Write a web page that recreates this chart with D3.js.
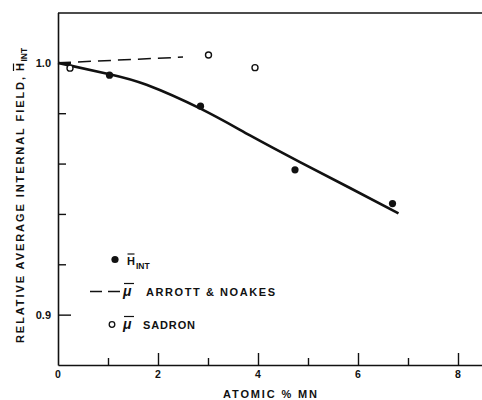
<!DOCTYPE html>
<html>
<head>
<meta charset="utf-8">
<script src="https://cdn.jsdelivr.net/npm/d3@7"></script>
<style>
  html, body { margin: 0; padding: 0; background: #fff; }
  svg { display: block; }
  text { font-family: "Liberation Sans", Arial, sans-serif; font-weight: bold; fill: #111; }
</style>
</head>
<body>
<script>
// Relative average internal field vs. Mn content
const hIntX = [1.03, 2.85, 4.74, 6.69];
const hIntY = [0.9951, 0.9828, 0.9575, 0.9441];

const sadronX = [0.24, 3.01, 3.94];
const sadronY = [0.9979, 1.0031, 0.9981];

const arrottX = [0, 2.5];
const arrottY = [1.0, 1.0023];

const fitX = [0, 1.03, 1.77, 2.85, 3.84, 4.84, 5.84, 6.81];
const fitY = [1.0, 0.9955, 0.9913, 0.9818, 0.9712, 0.9606, 0.9503, 0.9402];

const xMajor = [2, 4, 6, 8];
const xMinor = [1, 3, 5, 7];
const xLabels = [0, 2, 4, 6, 8];
const yMajor = [0.9, 1.0];
const yMinor = [0.92, 0.94, 0.96, 0.98];

const W = 482, H = 400;
const plotL = 58, plotT = 13, plotB = 365, plotR = 482;

const svg = d3.select("body").append("svg")
  .attr("width", W).attr("height", H);
svg.append("rect").attr("width", W).attr("height", H).attr("fill", "#fff");

const x = d3.scaleLinear().domain([0, (plotR - plotL) / 50]).range([plotL, plotR]);
const y = d3.scaleLinear().domain([0.88, 1.02]).range([plotB, plotT - 0.5]);

const ink = "#111";

// overbar helper for symbols such as H-bar and mu-bar
function bar(g, x1, x2, yy, w) {
  g.append("line").attr("x1", x1).attr("x2", x2).attr("y1", yy).attr("y2", yy)
    .attr("stroke", ink).attr("stroke-width", w || 1.2);
}

// frame: top rule
svg.append("line").attr("x1", plotL).attr("x2", plotR).attr("y1", plotT).attr("y2", plotT)
  .attr("stroke", ink).attr("stroke-width", 1.5);

// x axis (ticks point inward)
const gx = svg.append("g").attr("transform", `translate(0,${plotB})`);
gx.call(d3.axisBottom(x).tickValues(xMajor).tickSize(-12).tickSizeOuter(0).tickFormat(""));
gx.append("g").call(d3.axisBottom(x).tickValues(xMinor).tickSize(-7).tickSizeOuter(0).tickFormat(""))
  .select(".domain").remove();
gx.selectAll(".domain").attr("stroke", ink).attr("stroke-width", 1.6);
gx.selectAll(".tick line").attr("stroke", ink).attr("stroke-width", 1.4);
gx.selectAll(".tick text").remove();
gx.selectAll(".xl").data(xLabels).enter().append("text")
  .attr("x", d => x(d)).attr("y", 12.5)
  .attr("text-anchor", "middle").attr("font-size", 10.5)
  .text(d => d);

// y axis (ticks point inward)
const gy = svg.append("g").attr("transform", `translate(${plotL},0)`);
gy.call(d3.axisLeft(y).tickValues(yMajor).tickSize(-13).tickSizeOuter(0).tickFormat(""));
gy.append("g").call(d3.axisLeft(y).tickValues(yMinor).tickSize(-8).tickSizeOuter(0).tickFormat(""))
  .select(".domain").remove();
gy.selectAll(".domain").attr("stroke", ink).attr("stroke-width", 1.6);
gy.selectAll(".tick line").attr("stroke", ink).attr("stroke-width", 1.4);
gy.selectAll(".tick text").remove();
gy.selectAll(".yl").data(yMajor).enter().append("text")
  .attr("x", -7).attr("y", d => y(d) + 4)
  .attr("text-anchor", "end").attr("font-size", 11)
  .text(d => d3.format(".1f")(d));

// axis titles
svg.append("text")
  .attr("x", 223).attr("y", 398)
  .attr("font-size", 11).attr("textLength", 94).attr("lengthAdjust", "spacing")
  .text("ATOMIC % MN");

const gt = svg.append("g").attr("transform", "translate(24,0) rotate(-90)");
gt.append("text").attr("x", -343).attr("y", 0)
  .attr("font-size", 11).attr("textLength", 266).attr("lengthAdjust", "spacing")
  .text("RELATIVE AVERAGE INTERNAL FIELD,");
gt.append("text").attr("x", -71).attr("y", 0).attr("font-size", 11).text("H");
bar(gt, -71, -63.5, -10.5);
gt.append("text").attr("x", -61.5).attr("y", 2.5).attr("font-size", 8.5).text("INT");

// smooth fitted curve through the H_int trend
const fit = fitX.map((d, i) => [d, fitY[i]]);
svg.append("path")
  .attr("d", d3.line().x(d => x(d[0])).y(d => y(d[1])).curve(d3.curveNatural)(fit))
  .attr("fill", "none").attr("stroke", ink).attr("stroke-width", 2.6);

// dashed Arrott & Noakes estimate
const arr = arrottX.map((d, i) => [d, arrottY[i]]);
svg.append("path")
  .attr("d", d3.line().x(d => x(d[0])).y(d => y(d[1]))(arr))
  .attr("fill", "none").attr("stroke", ink).attr("stroke-width", 1.5)
  .attr("stroke-dasharray", "13,7");

// filled points: H_int
svg.selectAll(".hint").data(hIntX).enter().append("circle")
  .attr("cx", d => x(d)).attr("cy", (d, i) => y(hIntY[i])).attr("r", 3.6)
  .attr("fill", ink);

// open points: Sadron
svg.selectAll(".sad").data(sadronX).enter().append("circle")
  .attr("cx", d => x(d)).attr("cy", (d, i) => y(sadronY[i])).attr("r", 3)
  .attr("fill", "#fff").attr("stroke", ink).attr("stroke-width", 1.4);

// legend
const lg = svg.append("g");
lg.append("circle").attr("cx", 115).attr("cy", 259.5).attr("r", 3.6).attr("fill", ink);
lg.append("text").attr("x", 127).attr("y", 264.5).attr("font-size", 11).text("H");
bar(lg, 127.5, 134.5, 254);
lg.append("text").attr("x", 136).attr("y", 268.5).attr("font-size", 8.5).text("INT");

lg.append("line").attr("x1", 90).attr("x2", 120).attr("y1", 291.5).attr("y2", 291.5)
  .attr("stroke", ink).attr("stroke-width", 1.5).attr("stroke-dasharray", "12,6");
lg.append("text").attr("x", 123).attr("y", 296).attr("font-size", 14)
  .attr("font-style", "italic").attr("font-weight", "normal")
  .attr("font-family", "Liberation Serif").text("\u03BC");
bar(lg, 124, 134, 283.5);
lg.append("text").attr("x", 146).attr("y", 296).attr("font-size", 11)
  .attr("textLength", 129).attr("lengthAdjust", "spacing").text("ARROTT & NOAKES");

lg.append("circle").attr("cx", 112).attr("cy", 324.5).attr("r", 2.8)
  .attr("fill", "#fff").attr("stroke", ink).attr("stroke-width", 1.3);
lg.append("text").attr("x", 123).attr("y", 329).attr("font-size", 14)
  .attr("font-style", "italic").attr("font-weight", "normal")
  .attr("font-family", "Liberation Serif").text("\u03BC");
bar(lg, 124, 134, 316.5);
lg.append("text").attr("x", 143).attr("y", 329).attr("font-size", 11)
  .attr("textLength", 52).attr("lengthAdjust", "spacing").text("SADRON");
</script>
</body>
</html>
